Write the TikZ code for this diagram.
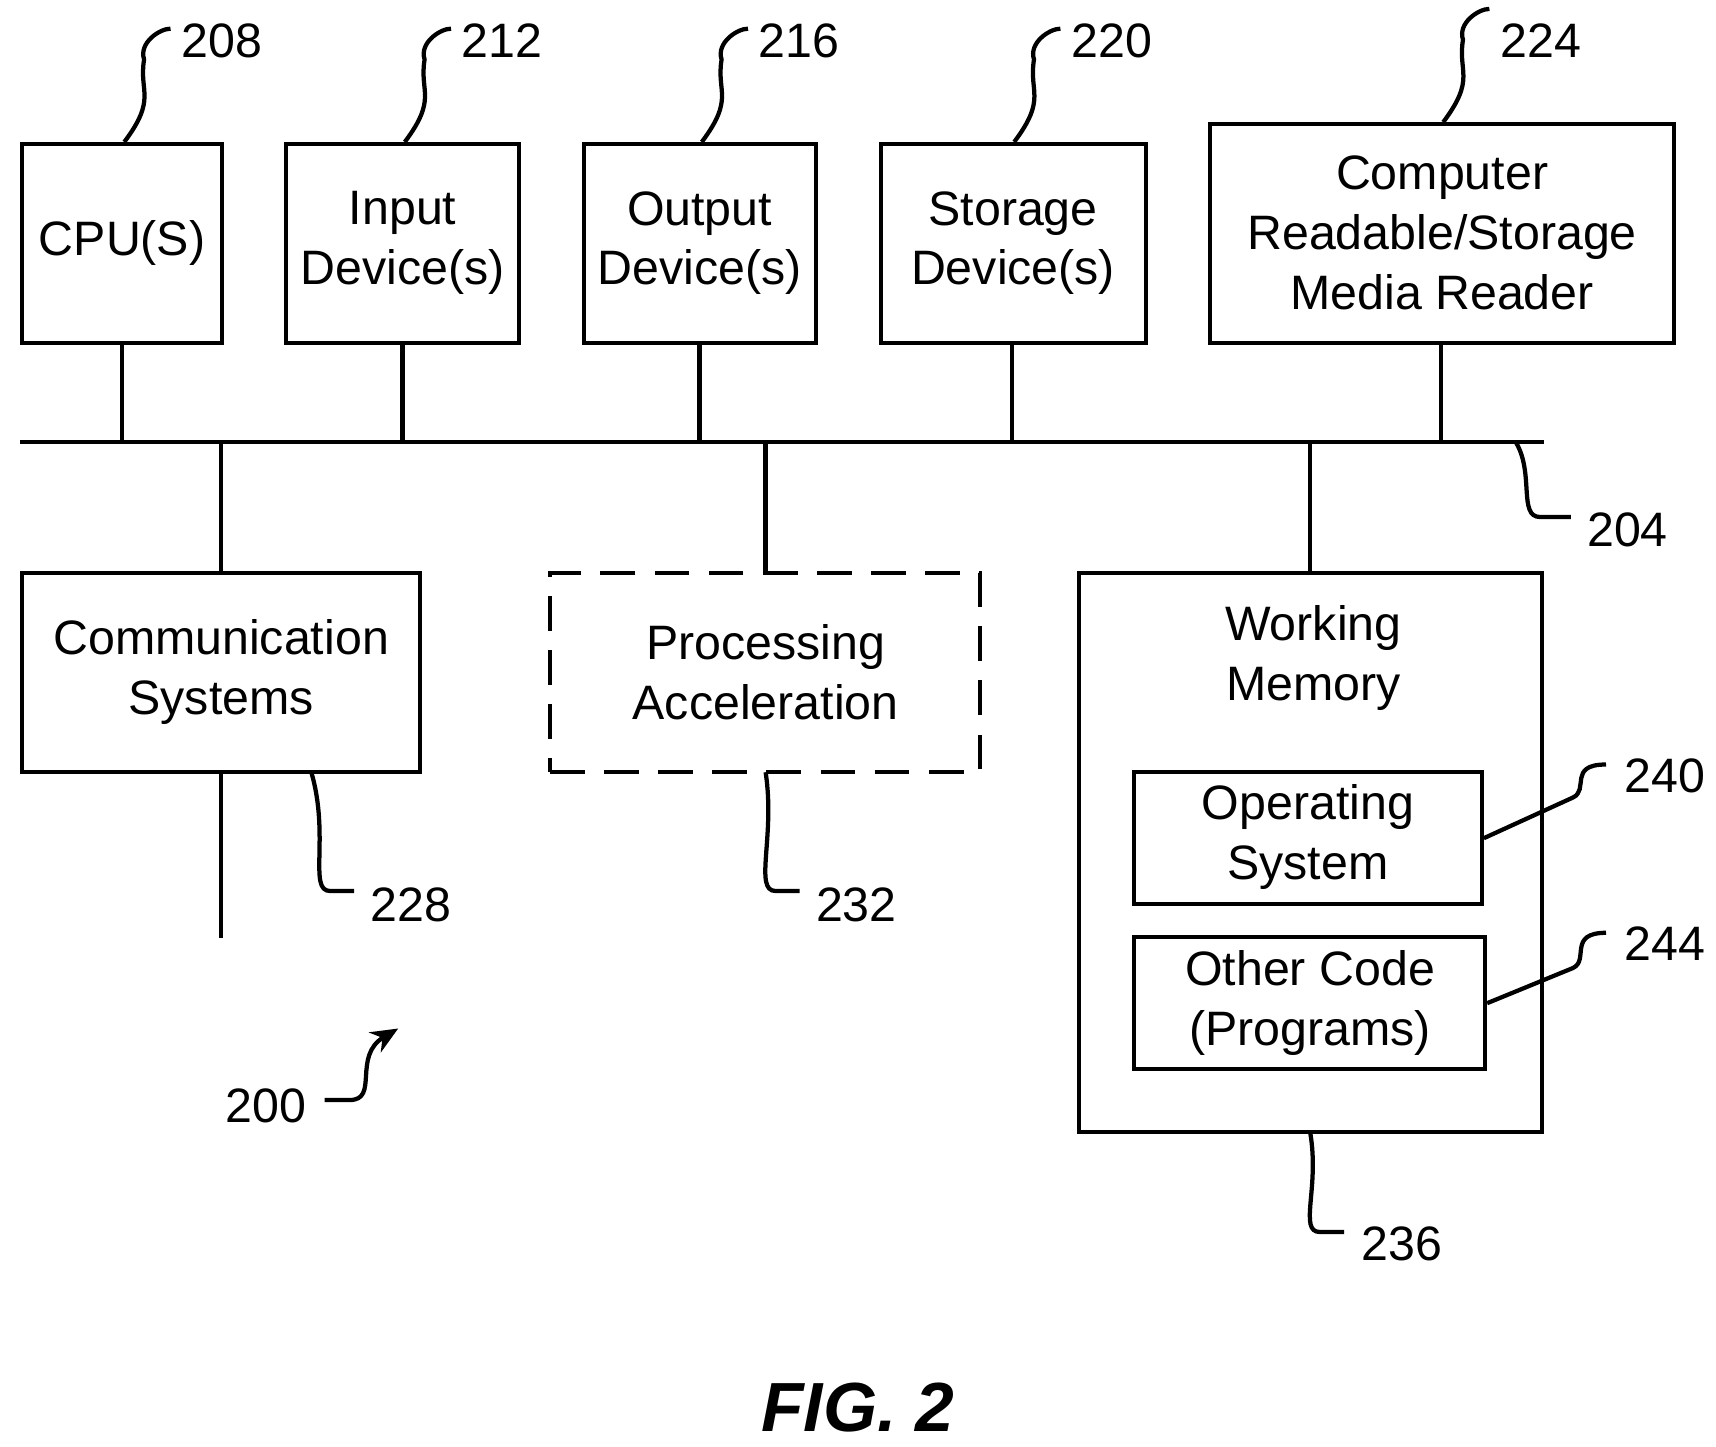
\documentclass[tikz,border=0pt]{standalone}
\usepackage{fontspec}
\usetikzlibrary{arrows.meta}
\setmainfont{Liberation Sans}
\begin{document}
\begin{tikzpicture}[x=0.02cm,y=-0.02cm,line width=2.2pt,
  box/.style={draw,align=center,font=\fontsize{25}{31}\selectfont,inner sep=0pt},
  lbl/.style={font=\fontsize{25}{30}\selectfont,anchor=west,inner sep=0pt},
  lead/.style={line width=2.2pt}]
\useasboundingbox (0,0) rectangle (1560,1315);
\newcommand\bx[6]{\node[box,#6,minimum width={(#4-#2)*0.02cm},minimum height={(#5-#3)*0.02cm}] (#1) at ({(#2+#4)/2},{(#3+#5)/2}) {};}
\bx{cpu}{20}{131}{202}{312}{}
\bx{inp}{260}{131}{472}{312}{}
\bx{out}{531}{131}{742}{312}{}
\bx{sto}{801}{131}{1042}{312}{}
\bx{rdr}{1100}{113}{1522}{312}{}
\bx{com}{20}{521}{382}{702}{}
\bx{acc}{500}{521}{891}{702}{dash pattern=on 18pt off 10pt}
\bx{wm}{981}{521}{1402}{1029}{}
\bx{os}{1031}{702}{1347}{822}{}
\bx{oc}{1031}{852}{1350}{972}{}
\tikzset{t/.style={align=center,font=\fontsize{25}{31}\selectfont}}
\node[t] at (111,221) {CPU(S)};
\node[t] at (366,221) {Input\\Device(s)};
\node[t] at (636,221) {Output\\Device(s)};
\node[t] at (921,221) {Storage\\Device(s)};
\node[t] at (1311,212) {Computer\\Readable/Storage\\Media Reader};
\node[t] at (201,611) {Communication\\Systems};
\node[t] at (696,611) {Processing\\Acceleration};
\node[t] at (1194,598) {Working\\Memory};
\node[t] at (1189,761) {Operating\\System};
\node[t] at (1191,912) {Other Code\\(Programs)};
% bus
\coordinate (b0) at (18,402); \coordinate (b1) at (1404,402);
\draw (b0) -- (b1);
\foreach \n/\x in {cpu/111,inp/366,out/636,sto/920,rdr/1310}{\draw (\x,402) -- (\n.south -| \x,0);}
\foreach \n/\x in {com/201,acc/696,wm/1191}{\draw (\x,402) -- (\n.north -| \x,0);}
\coordinate (cend) at (201,853);
\draw (com.south) -- (cend);
% top leaders
\foreach \n/\x/\l in {cpu/111/208,inp/366/212,out/636/216,sto/920/220,rdr/1310/224}{
  \draw[lead] ([xshift=0.04cm]\n.north -| \x,0) .. controls ++(30,-40) and ++(-5,30) .. ++(18,-75) .. controls ++(-5,-15) and ++(-10,0) .. ++(24,-28);
  \node[lbl] at (\x+52,37) {\l};}
% other leaders
\draw[lead] (1378,402) .. controls (1395,430) and (1380,470) .. (1400,470) -- (1428,470);
\node[lbl] at (1441,482) {204};
\draw[lead] (283,702) .. controls (300,760) and (280,810) .. (300,810) -- (322,810);
\node[lbl] at (335,823) {228};
\draw[lead] (696,702) .. controls (705,760) and (685,810) .. (705,810) -- (727,810);
\node[lbl] at (740,823) {232};
\draw[lead] (1191,1029) .. controls (1200,1080) and (1180,1120) .. (1200,1120) -- (1222,1120);
\node[lbl] at (1236,1131) {236};
\draw[lead] (os.east) -- (1430,725) .. controls (1445,718) and (1425,695) .. (1460,695);
\node[lbl] at (1475,705) {240};
\draw[lead] (oc.east) -- (1430,880) .. controls (1445,873) and (1425,848) .. (1460,848);
\node[lbl] at (1475,858) {244};
\node[lbl] (n200) at (203,1005) {200};
\draw[lead,-{Stealth[length=14pt,width=12pt]}] (295,1000) -- (318,1000) .. controls (345,1000) and (320,960) .. (362,935);
\node[font=\bfseries\itshape\fontsize{36}{40}\selectfont] at (780,1280) {FIG. 2};
\end{tikzpicture}
\end{document}
